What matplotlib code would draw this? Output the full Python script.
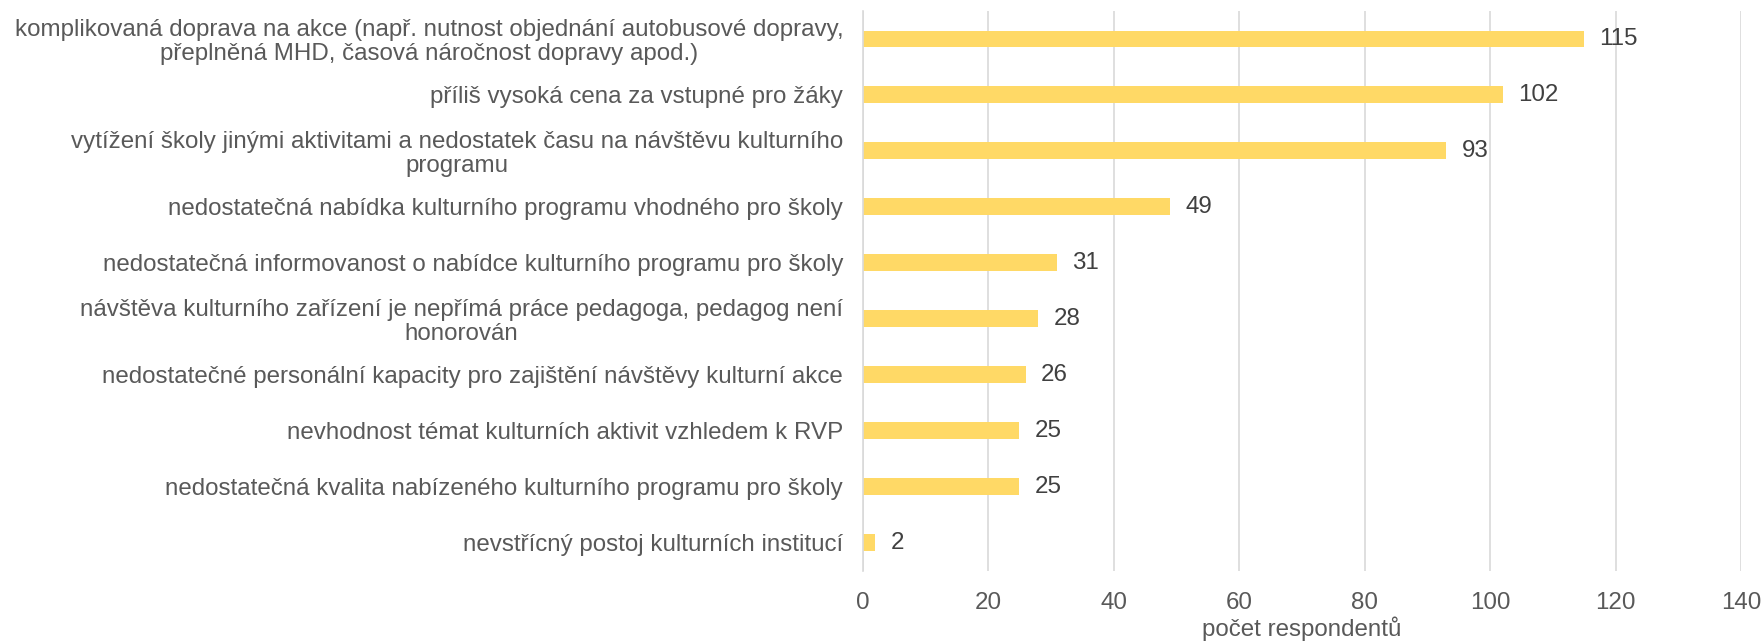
import matplotlib
matplotlib.use("Agg")
import matplotlib.pyplot as plt

plt.rcParams['font.family'] = ['Liberation Sans', 'DejaVu Sans']

# data (top to bottom as in the chart)
labels = [
    "komplikovaná doprava na akce (např. nutnost objednání autobusové dopravy,\npřeplněná MHD, časová náročnost dopravy apod.)",
    "příliš vysoká cena za vstupné pro žáky",
    "vytížení školy jinými aktivitami a nedostatek času na návštěvu kulturního\nprogramu",
    "nedostatečná nabídka kulturního programu vhodného pro školy",
    "nedostatečná informovanost o nabídce kulturního programu pro školy",
    "návštěva kulturního zařízení je nepřímá práce pedagoga, pedagog není\nhonorován",
    "nedostatečné personální kapacity pro zajištění návštěvy kulturní akce",
    "nevhodnost témat kulturních aktivit vzhledem k RVP",
    "nedostatečná kvalita nabízeného kulturního programu pro školy",
    "nevstřícný postoj kulturních institucí",
]
values = [115, 102, 93, 49, 31, 28, 26, 25, 25, 2]
xticks = [0, 20, 40, 60, 80, 100, 120, 140]

bar_color = "#FFD966"
text_color = "#595959"
grid_color = "#D9D9D9"
fs = 17.4

fig = plt.figure(figsize=(17.64, 6.42), dpi=100)
ax = fig.add_axes([0.489, 0.111, 0.498, 0.872])

pos = list(range(len(values)))
ax.barh(pos, values, height=0.3, color=bar_color, zorder=2)

for p, v in zip(pos, values):
    ax.annotate(str(v), (v, p), xytext=(11, 0), textcoords="offset points",
                va="center", ha="left", fontsize=fs, color="#404040")

ax.set_ylim(len(values) - 0.5, -0.5)
ax.set_xlim(0, 140)
ax.set_xticks(xticks)
ax.set_xticklabels([str(t) for t in xticks], fontsize=fs, color=text_color)
ax.set_yticks(pos)
ax.set_yticklabels(labels, fontsize=fs, color=text_color)
for t in ax.get_yticklabels():
    t.set_multialignment("center")
    t.set_linespacing(1.1)

ax.tick_params(axis="both", length=0)
ax.tick_params(axis="y", pad=14)
ax.tick_params(axis="x", pad=15)
ax.grid(axis="x", color=grid_color, linewidth=1.2, zorder=0)
for s in ["top", "right", "bottom"]:
    ax.spines[s].set_visible(False)
ax.spines["left"].set_color(grid_color)
ax.spines["left"].set_linewidth(1.2)

ax.set_xlabel("počet respondentů", fontsize=fs, color=text_color, labelpad=2)

fig.savefig("out.png", dpi=100, facecolor="white")
